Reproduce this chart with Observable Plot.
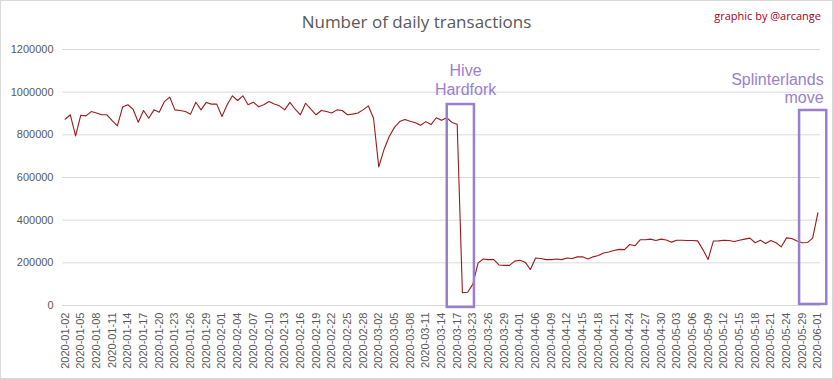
<!DOCTYPE html>
<html><head><meta charset="utf-8">
<script src="https://cdn.jsdelivr.net/npm/d3@7"></script>
<script src="https://cdn.jsdelivr.net/npm/@observablehq/plot@0.6"></script>
<style>
body{margin:0;background:#fff;}
#chart{position:relative;width:833px;height:379px;overflow:hidden;font-family:"Liberation Sans",sans-serif;background:#fff;}
#frame{position:absolute;left:0;top:0;width:833px;height:379px;box-sizing:border-box;border:1px solid #d9d9d9;pointer-events:none;}
#title{position:absolute;left:0;width:833px;top:10px;text-align:center;font-size:17px;color:#595959;font-family:"Open Sans",sans-serif;}
#credit{position:absolute;right:12px;top:8px;font-size:11px;color:#a50021;font-family:"Open Sans",sans-serif;}
#chart svg{position:absolute;left:0;top:0;}
</style>
</head><body>
<div id="chart"><div id="title">Number of daily transactions</div><div id="credit">graphic by @arcange</div><div id="frame"></div></div>
<script>
const dates = [
"2020-01-02","2020-01-03","2020-01-04","2020-01-05","2020-01-06","2020-01-07","2020-01-08","2020-01-09","2020-01-10","2020-01-11","2020-01-12","2020-01-13","2020-01-14","2020-01-15","2020-01-16","2020-01-17","2020-01-18","2020-01-19","2020-01-20","2020-01-21","2020-01-22","2020-01-23","2020-01-24","2020-01-25","2020-01-26","2020-01-27","2020-01-28","2020-01-29","2020-01-30","2020-01-31",
"2020-02-01","2020-02-02","2020-02-03","2020-02-04","2020-02-05","2020-02-06","2020-02-07","2020-02-08","2020-02-09","2020-02-10","2020-02-11","2020-02-12","2020-02-13","2020-02-14","2020-02-15","2020-02-16","2020-02-17","2020-02-18","2020-02-19","2020-02-20","2020-02-21","2020-02-22","2020-02-23","2020-02-24","2020-02-25","2020-02-26","2020-02-27","2020-02-28","2020-02-29",
"2020-03-01","2020-03-02","2020-03-03","2020-03-04","2020-03-05","2020-03-06","2020-03-07","2020-03-08","2020-03-09","2020-03-10","2020-03-11","2020-03-12","2020-03-13","2020-03-14","2020-03-15","2020-03-16","2020-03-17","2020-03-20","2020-03-21","2020-03-23","2020-03-24","2020-03-25","2020-03-26","2020-03-27","2020-03-28","2020-03-29","2020-03-30","2020-03-31",
"2020-04-01","2020-04-02","2020-04-05","2020-04-06","2020-04-07","2020-04-08","2020-04-09","2020-04-10","2020-04-11","2020-04-12","2020-04-13","2020-04-14","2020-04-15","2020-04-16","2020-04-17","2020-04-18","2020-04-19","2020-04-20","2020-04-21","2020-04-22","2020-04-23","2020-04-24","2020-04-25","2020-04-26","2020-04-27","2020-04-28","2020-04-29","2020-04-30",
"2020-05-01","2020-05-02","2020-05-03","2020-05-04","2020-05-05","2020-05-06","2020-05-07","2020-05-08","2020-05-09","2020-05-10","2020-05-11","2020-05-12","2020-05-13","2020-05-14","2020-05-15","2020-05-16","2020-05-17","2020-05-18","2020-05-19","2020-05-20","2020-05-21","2020-05-22","2020-05-23","2020-05-24","2020-05-25","2020-05-27","2020-05-29","2020-05-30","2020-05-31",
"2020-06-01"
];
const transactions = [
873000,894000,795000,892000,889000,909000,902000,894000,894000,867000,
842000,930000,941000,920000,859000,914000,878000,917000,906000,956000,
977000,917000,914000,909000,897000,953000,917000,952000,944000,944000,
886000,941000,983000,961000,983000,941000,953000,932000,941000,956000,
945000,936000,917000,952000,920000,894000,948000,920000,894000,914000,
909000,902000,917000,914000,894000,897000,902000,917000,936000,878000,
650000,731000,792000,835000,862000,872000,864000,857000,845000,862000,
848000,880000,868000,880000,858000,850000,60000,62000,100000,200000,
218000,215000,215000,190000,188000,188000,208000,212000,203000,169000,
223000,220000,215000,215000,218000,215000,223000,220000,228000,228000,
218000,228000,234000,246000,251000,258000,263000,262000,286000,280000,
308000,308000,311000,305000,311000,307000,297000,306000,306000,305000,
305000,303000,262000,216000,302000,303000,306000,305000,300000,306000,
311000,316000,294000,306000,291000,305000,294000,275000,317000,314000,
302000,294000,295000,316000,434000
];
const yTicks = [0,200000,400000,600000,800000,1000000,1200000];
const xTickEvery = 3;

// annotations
const annotLabels = ["Hive\nHardfork", "Splinterlands\nmove"];
const annotStart = [73.1, 140.5];   // category index
const annotEnd = [78.3, 145.7];
const annotLow = [-9000, 5000];
const annotHigh = [942000, 914000];
const annotTextX = [76.6, 145.1];
const annotTextY = [1059000, 1019000];
const annotAnchor = ["middle", "end"];

const data = transactions.map((v, i) => ({i, v, date: dates[i]}));
const tickIdx = dates.map((d, i) => i).filter(i => i % xTickEvery === 0);
const annots = annotLabels.map((t, k) => ({t, x1: annotStart[k], x2: annotEnd[k], y1: annotLow[k], y2: annotHigh[k], tx: annotTextX[k], ty: annotTextY[k], a: annotAnchor[k]}));

const plot = Plot.plot({
  width: 833, height: 379,
  marginLeft: 62, marginRight: 13, marginTop: 49, marginBottom: 74,
  style: {fontFamily: "Liberation Sans, sans-serif", fontSize: "11px", color: "#595959", background: "transparent", overflow: "visible"},
  x: {type: "linear", domain: [-0.5, dates.length - 0.5], ticks: tickIdx, tickFormat: i => dates[i], tickRotate: -90, tickSize: 0, tickPadding: 7, label: null},
  y: {domain: [0, 1200000], ticks: yTicks, tickFormat: d => String(d), tickSize: 0, tickPadding: 9, label: null},
  marks: [
    Plot.ruleY(yTicks, {stroke: "#d9d9d9", strokeWidth: 1}),
    Plot.line(data, {x: "i", y: "v", stroke: "#9b1b1b", strokeWidth: 1.1}),
    Plot.rect(annots, {x1: "x1", x2: "x2", y1: "y1", y2: "y2", fill: "none", stroke: "#9a7fd0", strokeWidth: 2.5, ariaLabel: "annot-box"}),
    Plot.text(annots.filter(d => d.a === "middle"), {x: "tx", y: "ty", text: "t", fill: "#9a7fd0", fontSize: 16, lineHeight: 1.15, textAnchor: "middle"}),
    Plot.text(annots.filter(d => d.a === "end"), {x: "tx", y: "ty", text: "t", fill: "#9a7fd0", fontSize: 16, lineHeight: 1.15, textAnchor: "end"})
  ]
});
d3.select(plot).selectAll('g[aria-label="annot-box"] rect').style("filter", "drop-shadow(2px 2px 2px rgba(0,0,0,0.35))");
document.getElementById("chart").insertBefore(plot, document.getElementById("title"));
</script>
</body></html>
